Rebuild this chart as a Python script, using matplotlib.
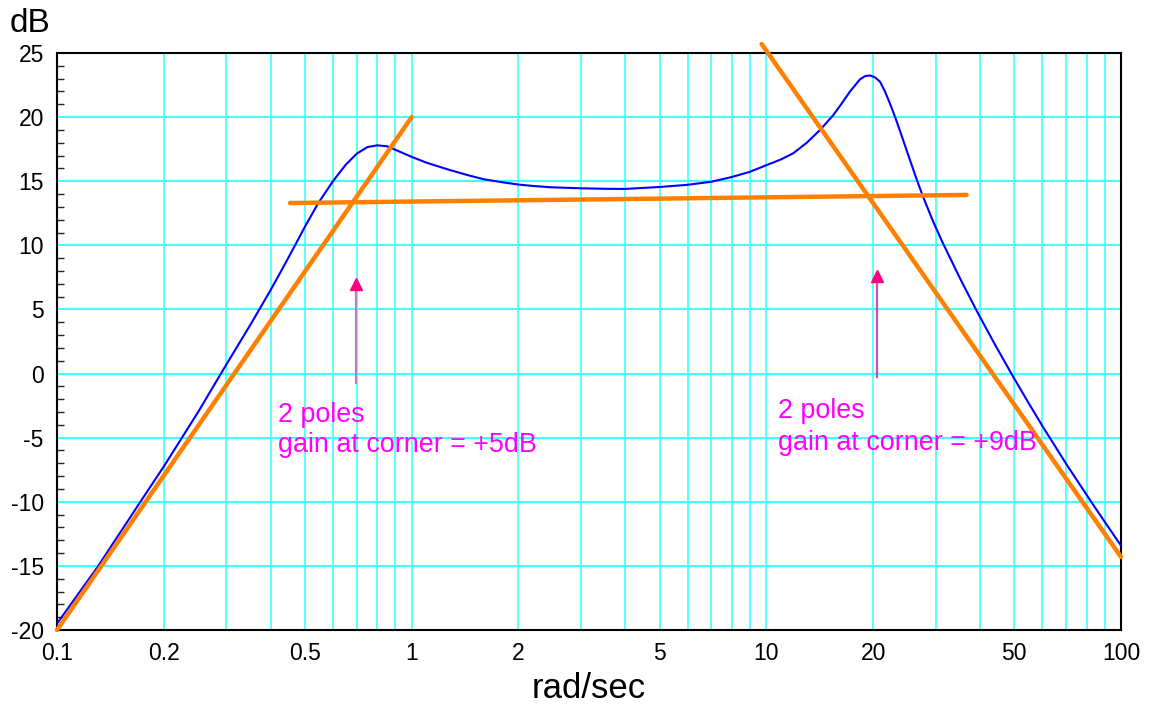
import numpy as np
import matplotlib
matplotlib.use("Agg")
import matplotlib.pyplot as plt
from matplotlib.ticker import FixedLocator, NullFormatter, MultipleLocator

plt.rcParams['font.family'] = ['Liberation Sans', 'DejaVu Sans']
plt.rcParams['axes.unicode_minus'] = False

freq = [0.1, 0.13, 0.17, 0.2, 0.25, 0.295, 0.35, 0.4, 0.4345, 0.47,
        0.5, 0.5455, 0.6, 0.65, 0.7, 0.75, 0.8, 0.85, 0.9, 1.0,
        1.1, 1.282, 1.45, 1.6, 1.8, 2.0, 2.2, 2.455, 3.0, 3.5,
        4.0, 5.0, 6.0, 7.0, 8.0, 9.0, 10.02, 11.0, 11.91, 13.0,
        14.16, 15.45, 16.3, 17.2, 18.37, 19.0, 19.6, 20.25, 20.92, 21.6,
        22.3, 23.0, 23.8, 25.1, 26.5, 27.7, 29.6, 31.55, 33.3, 35.2,
        39.2, 44.0, 49.7, 55.0, 60.4, 70.3, 81.8, 90.0, 100]
mag_db = [-19.5, -15.1, -10.2, -7.25, -3.0, 0.35, 3.75, 6.5, 8.3, 10.05,
          11.45, 13.3, 15.0, 16.25, 17.15, 17.66, 17.8, 17.73, 17.45, 16.9,
          16.45, 15.87, 15.45, 15.15, 14.92, 14.74, 14.63, 14.53, 14.45, 14.41,
          14.4, 14.55, 14.72, 14.96, 15.33, 15.74, 16.26, 16.7, 17.18, 18.0,
          18.99, 20.16, 21.05, 21.98, 22.95, 23.2, 23.25, 23.1, 22.76, 22.0,
          21.08, 20.1, 18.95, 17.08, 15.19, 13.75, 11.79, 10.1, 8.77, 7.4,
          4.88, 2.32, -0.27, -2.34, -4.21, -7.11, -9.87, -11.57, -13.42]

# straight-line asymptotes
rise_w, rise_db = [0.1, 1.0], [-20, 20]
flat_w, flat_db = [0.454, 36.7], [13.3, 13.93]
fall_w, fall_db = [9.7, 100], [25.7, -14.3]

xticks = [0.1, 0.2, 0.5, 1, 2, 5, 10, 20, 50, 100]
xticklabels = ['0.1', '0.2', '0.5', '1', '2', '5', '10', '20', '50', '100']
xminor = [m * d for d in (0.1, 1, 10) for m in range(1, 10)] + [100]
yticks = list(range(-20, 26, 5))

fig = plt.figure(figsize=(11.51, 7.08), dpi=100)
ax = fig.add_axes([57 / 1151, 1 - 630 / 708, 1064 / 1151, 577 / 708])
ax.set_xscale('log')
ax.set_xlim(0.1, 100)
ax.set_ylim(-20, 25)
ax.set_axisbelow(True)

gridc = '#40ffff'
ax.xaxis.set_major_locator(FixedLocator(xticks))
ax.xaxis.set_minor_locator(FixedLocator(xminor))
ax.xaxis.set_minor_formatter(NullFormatter())
ax.set_xticklabels(xticklabels)
ax.set_yticks(yticks)
ax.yaxis.set_minor_locator(MultipleLocator(1))
ax.grid(True, axis='x', which='both', color=gridc, lw=1.2)
ax.grid(True, axis='y', which='major', color=gridc, lw=1.5)

ax.tick_params(axis='x', which='both', length=0, pad=9, labelsize=16.5)
ax.tick_params(axis='y', which='major', length=0, pad=9.5, labelsize=16.5)
ax.tick_params(axis='y', which='minor', direction='in', length=5, width=1, color='#222222')
for s in ax.spines.values():
    s.set_linewidth(1.5)
    s.set_color('black')

ax.plot(freq, mag_db, color='#0000ff', lw=1.5, zorder=3)
orange = '#ff8000'
for w, db in ((rise_w, rise_db), (flat_w, flat_db), (fall_w, fall_db)):
    ax.plot(w, db, color=orange, lw=3.2, solid_capstyle='round', clip_on=False, zorder=4)

# corner arrows
ax.plot([0.695, 0.695], [-0.76, 6.8], color='#b480c8', lw=1.6, zorder=5)
ax.plot([0.695], [7.0], marker='^', ms=9, color='#ff0080', zorder=6)
ax.plot([20.5, 20.5], [-0.25, 7.4], color='#d050b0', lw=1.6, zorder=5)
ax.plot([20.5], [7.62], marker='^', ms=9, color='#ff0080', zorder=6)

txtc = '#ff00ff'
fs = 19.4
ax.text(0.421, -3.76, '2 poles', color=txtc, fontsize=fs, va='baseline', zorder=7)
ax.text(0.421, -6.1, 'gain at corner = +5dB', color=txtc, fontsize=fs, va='baseline', zorder=7)
ax.text(10.8, -3.5, '2 poles', color=txtc, fontsize=fs, va='baseline', zorder=7)
ax.text(10.8, -5.97, 'gain at corner = +9dB', color=txtc, fontsize=fs, va='baseline', zorder=7)

fig.text(10 / 1151, 1 - 31.7 / 708, 'dB', fontsize=24, va='baseline', ha='left')
fig.text(589 / 1151, 1 - 698 / 708, 'rad/sec', fontsize=25, va='baseline', ha='center')

fig.savefig('out.png', dpi=100)
